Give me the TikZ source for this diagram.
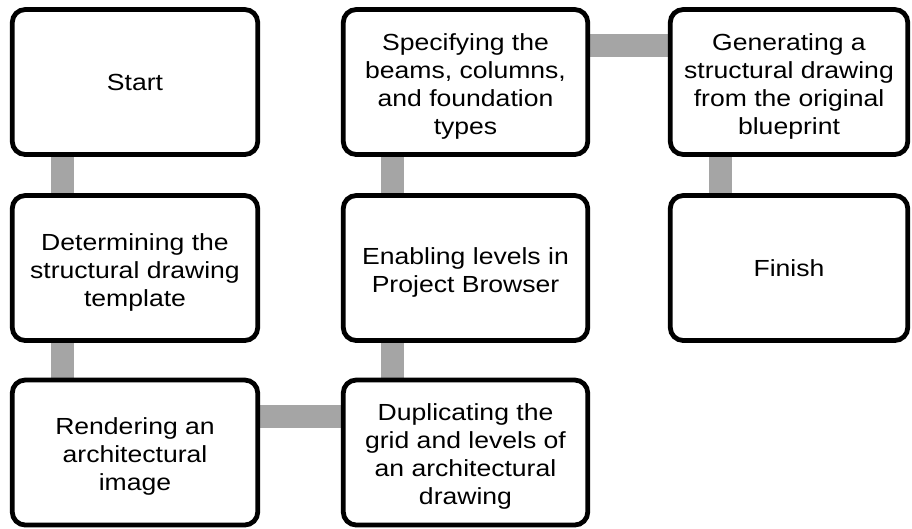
\documentclass[tikz,border=0pt]{standalone}
\usepackage{fontspec}
\setmainfont[FakeStretch=1.14]{Liberation Sans}
\usetikzlibrary{backgrounds}
\definecolor{connfill}{HTML}{A5A5A5}
\newcommand\firstln{\rule{0pt}{25pt}}
\begin{document}
\begin{tikzpicture}[x=1pt,y=-1pt,
  box/.style={draw=black, line width=4.8pt, rounded corners=13pt, fill=white,
    align=center, inner sep=0pt, minimum height=145pt,
    font=\fontsize{23.3}{28}\selectfont},
  col1/.style={minimum width=245.5pt},
  col2/.style={minimum width=244.5pt},
  col3/.style={minimum width=237.5pt},
  conn/.style={fill=connfill}
]
\useasboundingbox (0,0) rectangle (912,528);
\node[box,col1] (start) at (135,82) {Start};
\node[box,col1] (det) at (135,268) {\firstln Determining the\\structural drawing\\template};
\node[box,col1] (rend) at (135,452.5) {\firstln Rendering an\\architectural\\image};
\node[box,col2] (dup) at (465.5,452.5) {\firstln Duplicating the\\grid and levels of\\an architectural\\drawing};
\node[box,col2] (enab) at (465.5,268) {\firstln Enabling levels in\\Project Browser};
\node[box,col2] (spec) at (465.5,82) {\firstln Specifying the\\beams, columns,\\and foundation\\types};
\node[box,col3] (gen) at (789,82) {\firstln Generating a\\structural drawing\\from the original\\blueprint};
\node[box,col3] (fin) at (789,268) {Finish};
\begin{scope}[on background layer]
  \fill[conn] ([xshift=41pt]start.south west) rectangle ([xshift=64pt]det.north west);
  \fill[conn] ([xshift=41pt]det.south west) rectangle ([xshift=64pt]rend.north west);
  \fill[conn] ([yshift=-27pt]rend.north east) rectangle ([yshift=-50pt]dup.north west);
  \fill[conn] ([xshift=40pt]dup.north west) rectangle ([xshift=63pt]enab.south west);
  \fill[conn] ([xshift=40pt]enab.north west) rectangle ([xshift=63pt]spec.south west);
  \fill[conn] ([yshift=-27pt]spec.north east) rectangle ([yshift=-50pt]gen.north west);
  \fill[conn] ([xshift=41pt]gen.south west) rectangle ([xshift=64pt]fin.north west);
\end{scope}
\end{tikzpicture}
\end{document}
